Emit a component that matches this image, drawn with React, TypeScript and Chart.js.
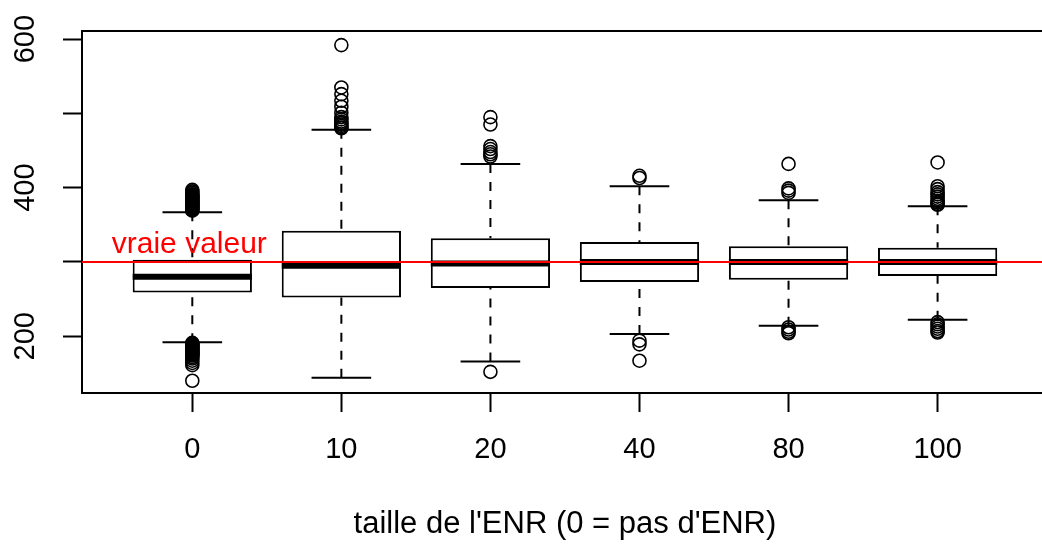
import { useEffect, useRef } from 'react';
import { Chart, registerables } from 'chart.js';

Chart.register(...registerables);

// ---- data ----
const categories = ['0', '10', '20', '40', '80', '100'];
const whiskerLow = [192, 144, 166, 203, 214, 222];
const q1 = [259, 252, 265, 273, 276, 281];
const median = [280, 295, 298, 300, 300, 300];
const q3 = [303, 342, 332, 327, 321, 319];
const whiskerHigh = [367, 478, 432, 402, 383, 375];

const outliers0 = [
  369, 370, 371, 372, 373, 374, 375, 376, 377, 378, 379, 380, 381, 382, 383, 384, 385,
  386, 387, 388, 389, 390, 391, 393, 395, 397,
  191, 190, 189, 188, 187, 186, 185, 184, 183, 182, 181, 180, 179, 178, 177, 176, 175,
  174, 172, 170, 167, 164, 161, 140,
];
const outliers10 = [592, 535, 526, 517, 509, 501, 495, 492, 489, 487, 485, 483, 481, 480];
const outliers20 = [495, 485, 456, 452, 448, 445, 442, 152];
const outliers40 = [416, 413, 194, 189, 167];
const outliers80 = [432, 399, 396, 393, 212, 209, 206, 204];
const outliers100 = [434, 402, 398, 394, 391, 388, 385, 382, 380, 378, 377, 219, 216, 213, 210, 207, 205];
const outlierSets = [outliers0, outliers10, outliers20, outliers40, outliers80, outliers100];

const yTickValues = [200, 300, 400, 500, 600];
const yTickLabels = ['200', '', '400', '', '600'];
const trueValue = 300;
const trueLabel = 'vraie valeur';
const xTitle = "taille de l'ENR (0 = pas d'ENR)";

const FONT = '"Liberation Sans", Arial, Helvetica, sans-serif';

export default function App() {
  const ref = useRef<HTMLCanvasElement>(null);

  useEffect(() => {
    const canvas = ref.current;
    if (!canvas) return;

    const extras = {
      id: 'boxExtras',
      afterDatasetsDraw(chart: any) {
        const { ctx, chartArea, scales } = chart;
        const x = scales.x;
        const y = scales.y;
        ctx.save();
        ctx.strokeStyle = '#000';
        ctx.lineCap = 'butt';
        for (let i = 0; i < categories.length; i++) {
          const cx = x.getPixelForValue(i + 1);
          const half = x.getPixelForValue(i + 1 + 0.4) - cx;
          const capHalf = half / 2;
          // dashed whiskers (drawn from whisker end toward the box)
          ctx.lineWidth = 2;
          ctx.setLineDash([9, 9]);
          ctx.beginPath();
          ctx.moveTo(cx, y.getPixelForValue(whiskerHigh[i]));
          ctx.lineTo(cx, y.getPixelForValue(q3[i]));
          ctx.moveTo(cx, y.getPixelForValue(whiskerLow[i]));
          ctx.lineTo(cx, y.getPixelForValue(q1[i]));
          ctx.stroke();
          ctx.setLineDash([]);
          // caps
          ctx.beginPath();
          ctx.moveTo(cx - capHalf, y.getPixelForValue(whiskerHigh[i]));
          ctx.lineTo(cx + capHalf, y.getPixelForValue(whiskerHigh[i]));
          ctx.moveTo(cx - capHalf, y.getPixelForValue(whiskerLow[i]));
          ctx.lineTo(cx + capHalf, y.getPixelForValue(whiskerLow[i]));
          ctx.stroke();
          // median
          ctx.lineWidth = 6;
          ctx.beginPath();
          ctx.moveTo(cx - half, y.getPixelForValue(median[i]));
          ctx.lineTo(cx + half, y.getPixelForValue(median[i]));
          ctx.stroke();
        }
        // top and right frame
        ctx.lineWidth = 2;
        ctx.beginPath();
        ctx.moveTo(chartArea.left, chartArea.top);
        ctx.lineTo(chartArea.right, chartArea.top);
        ctx.lineTo(chartArea.right, chartArea.bottom);
        ctx.stroke();
        // true value line
        const ty = y.getPixelForValue(trueValue);
        ctx.strokeStyle = '#ff0000';
        ctx.lineWidth = 2;
        ctx.beginPath();
        ctx.moveTo(chartArea.left, ty);
        ctx.lineTo(chartArea.right, ty);
        ctx.stroke();
        ctx.fillStyle = '#ff0000';
        ctx.font = `30px ${FONT}`;
        ctx.textAlign = 'center';
        ctx.textBaseline = 'alphabetic';
        ctx.fillText(trueLabel, x.getPixelForValue(1) - 3, ty - 9);
        ctx.restore();
      },
    };

    const boxData = categories.map((_, i) => ({ x: i + 1, y: [q1[i], q3[i]] }));
    const outlierData: { x: number; y: number }[] = [];
    outlierSets.forEach((set, i) => set.forEach((v) => outlierData.push({ x: i + 1, y: v })));

    const chart = new Chart(canvas, {
      type: 'bar',
      data: {
        datasets: [
          {
            type: 'bar',
            data: boxData as any,
            backgroundColor: '#ffffff',
            borderColor: '#000000',
            borderWidth: 2,
            borderSkipped: false,
            barPercentage: 0.8,
            categoryPercentage: 1,
            order: 2,
          } as any,
          {
            type: 'scatter',
            data: outlierData,
            pointRadius: 6.5,
            pointBorderWidth: 1.6,
            pointBorderColor: '#000000',
            pointBackgroundColor: 'rgba(0,0,0,0)',
            showLine: false,
            order: 1,
          } as any,
        ],
      },
      options: {
        animation: false,
        responsive: false,
        events: [],
        layout: { padding: { left: 0, top: 31, right: 1, bottom: 0 } },
        plugins: { legend: { display: false }, tooltip: { enabled: false } },
        scales: {
          x: {
            type: 'linear',
            min: 0.26,
            max: 6.74,
            offset: false,
            afterBuildTicks: (s: any) => {
              s.ticks = categories.map((_, i) => ({ value: i + 1 }));
            },
            afterFit: (s: any) => {
              s.height = 151;
            },
            ticks: {
              autoSkip: false,
              maxRotation: 0,
              minRotation: 0,
              padding: 21,
              color: '#000',
              font: { family: FONT, size: 29 },
              callback: (v: any) => categories[Number(v) - 1] ?? '',
            },
            grid: {
              display: true,
              offset: false,
              drawOnChartArea: false,
              drawTicks: true,
              tickLength: 19,
              tickColor: '#000',
              tickWidth: 2,
            },
            border: { display: true, color: '#000', width: 2 },
            title: {
              display: true,
              text: xTitle,
              color: '#000',
              font: { family: FONT, size: 31, lineHeight: 1.2 },
              padding: { top: 0, bottom: 1 },
            },
          },
          y: {
            type: 'linear',
            min: 123.5,
            max: 611,
            afterBuildTicks: (s: any) => {
              s.ticks = yTickValues.map((v) => ({ value: v }));
            },
            afterFit: (s: any) => {
              s.width = 82;
            },
            ticks: {
              autoSkip: false,
              minRotation: 90,
              maxRotation: 90,
              crossAlign: 'center',
              padding: 13,
              color: '#000',
              font: { family: FONT, size: 29 },
              callback: (v: any) => {
                const k = yTickValues.indexOf(Number(v));
                return k >= 0 ? yTickLabels[k] : '';
              },
            },
            grid: {
              display: true,
              drawOnChartArea: false,
              drawTicks: true,
              tickLength: 19,
              tickColor: '#000',
              tickWidth: 2,
            },
            border: { display: true, color: '#000', width: 2 },
          },
        },
      },
      plugins: [extras],
    } as any);

    return () => chart.destroy();
  }, []);

  return (
    <div
      style={{
        position: 'absolute',
        left: 0,
        top: 0,
        width: 1042,
        height: 544,
        overflow: 'hidden',
        background: '#ffffff',
      }}
    >
      <canvas ref={ref} width={1056} height={544} style={{ display: 'block' }} />
    </div>
  );
}
